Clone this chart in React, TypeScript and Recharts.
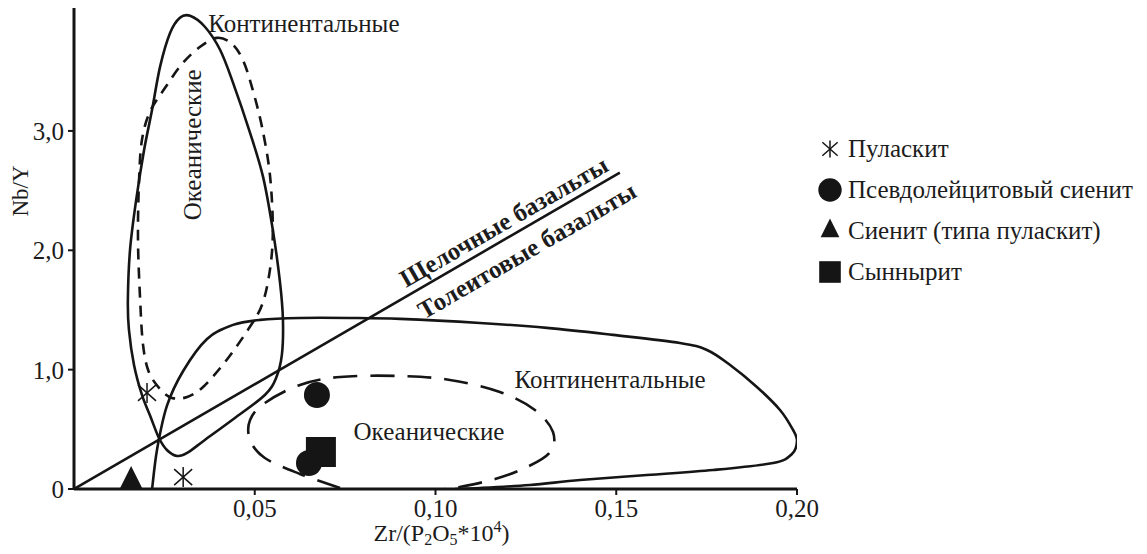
import React from 'react';
import { ScatterChart, Scatter, XAxis, YAxis, Legend } from 'recharts';

const FONT = '"Liberation Serif", "Times New Roman", serif';
const INK = '#151515';

// outlines (x = Zr/(P2O5*10^4), y = Nb/Y)
const continentalNarrow = [
  { x: 0.0321, y: 3.965 }, { x: 0.0362, y: 3.873 }, { x: 0.0404, y: 3.68 }, { x: 0.044, y: 3.403 },
  { x: 0.0487, y: 2.984 }, { x: 0.0523, y: 2.615 }, { x: 0.055, y: 2.171 }, { x: 0.057, y: 1.727 },
  { x: 0.0578, y: 1.417 }, { x: 0.0575, y: 1.123 }, { x: 0.0559, y: 0.93 }, { x: 0.0528, y: 0.788 },
  { x: 0.0445, y: 0.595 }, { x: 0.0362, y: 0.411 }, { x: 0.0313, y: 0.302 }, { x: 0.0285, y: 0.277 },
  { x: 0.0257, y: 0.327 }, { x: 0.0235, y: 0.427 }, { x: 0.0213, y: 0.595 }, { x: 0.0188, y: 0.788 },
  { x: 0.0166, y: 1.039 }, { x: 0.0152, y: 1.333 }, { x: 0.0149, y: 1.584 }, { x: 0.0155, y: 2.003 },
  { x: 0.0172, y: 2.422 }, { x: 0.0194, y: 2.842 }, { x: 0.0216, y: 3.177 }, { x: 0.0238, y: 3.537 },
  { x: 0.0266, y: 3.822 }, { x: 0.0293, y: 3.948 },
];

const oceanicNarrow = [
  { x: 0.0396, y: 3.78 }, { x: 0.0437, y: 3.73 }, { x: 0.0467, y: 3.596 }, { x: 0.0492, y: 3.37 },
  { x: 0.052, y: 3.034 }, { x: 0.0542, y: 2.632 }, { x: 0.055, y: 2.171 }, { x: 0.0542, y: 1.836 },
  { x: 0.052, y: 1.542 }, { x: 0.0481, y: 1.333 }, { x: 0.0418, y: 1.065 }, { x: 0.0357, y: 0.855 },
  { x: 0.0313, y: 0.771 }, { x: 0.0271, y: 0.763 }, { x: 0.0238, y: 0.838 }, { x: 0.0207, y: 0.981 },
  { x: 0.0191, y: 1.207 }, { x: 0.0183, y: 1.584 }, { x: 0.0177, y: 2.087 }, { x: 0.018, y: 2.59 },
  { x: 0.0188, y: 2.925 }, { x: 0.021, y: 3.16 }, { x: 0.0252, y: 3.361 }, { x: 0.0299, y: 3.562 },
  { x: 0.0349, y: 3.705 },
];

const continentalWide = [
  { x: 0.0216, y: 0 }, { x: 0.023, y: 0.335 }, { x: 0.0257, y: 0.696 }, { x: 0.0302, y: 0.989 },
  { x: 0.0368, y: 1.257 }, { x: 0.044, y: 1.375 }, { x: 0.0515, y: 1.417 }, { x: 0.0625, y: 1.433 },
  { x: 0.0763, y: 1.433 }, { x: 0.0902, y: 1.425 }, { x: 0.1123, y: 1.391 }, { x: 0.1308, y: 1.35 },
  { x: 0.1491, y: 1.291 }, { x: 0.1676, y: 1.224 }, { x: 0.1751, y: 1.165 }, { x: 0.1815, y: 1.039 },
  { x: 0.1889, y: 0.855 }, { x: 0.1953, y: 0.662 }, { x: 0.1989, y: 0.495 }, { x: 0.2, y: 0.402 },
  { x: 0.1986, y: 0.293 }, { x: 0.1934, y: 0.218 }, { x: 0.1768, y: 0.159 }, { x: 0.1585, y: 0.117 },
  { x: 0.14, y: 0.075 }, { x: 0.1261, y: 0.034 }, { x: 0.1123, y: 0.008 }, { x: 0.1054, y: 0 },
];

const oceanicWide = [
  { x: 0.0736, y: 0.008 }, { x: 0.0625, y: 0.126 }, { x: 0.0528, y: 0.26 }, { x: 0.0487, y: 0.411 },
  { x: 0.0487, y: 0.578 }, { x: 0.0528, y: 0.721 }, { x: 0.0625, y: 0.872 }, { x: 0.0736, y: 0.939 },
  { x: 0.0902, y: 0.947 }, { x: 0.104, y: 0.914 }, { x: 0.1178, y: 0.813 }, { x: 0.1275, y: 0.662 },
  { x: 0.1325, y: 0.478 }, { x: 0.1317, y: 0.31 }, { x: 0.1253, y: 0.184 }, { x: 0.1165, y: 0.084 },
  { x: 0.1068, y: 0.017 }, { x: 0.1026, y: 0 },
];

const basaltDivide = [{ x: 0, y: 0 }, { x: 0.151, y: 2.65 }];

// samples
const pulaskite = [{ x: 0.0202, y: 0.805 }, { x: 0.0302, y: 0.1 }];
const pseudoleuciteSyenite = [{ x: 0.0672, y: 0.788 }, { x: 0.065, y: 0.218 }];
const syenite = [{ x: 0.0158, y: 0.07 }];
const synnyrite = [{ x: 0.0683, y: 0.31 }];

const xTicks = [0.05, 0.1, 0.15, 0.2];
const yTicks = [0, 1, 2, 3];

const fieldLabels = [
  { x: 0.0636, y: 3.9, text: 'Континентальные', kind: 'plain' },
  { x: 0.1483, y: 0.914, text: 'Континентальные', kind: 'plain' },
  { x: 0.0982, y: 0.478, text: 'Океанические', kind: 'plain' },
  { x: 0.0329, y: 2.884, text: 'Океанические', kind: 'vertical' },
  { x: 0.1189, y: 2.24, text: 'Щелочные базальты', kind: 'divide' },
  { x: 0.1253, y: 1.998, text: 'Толеитовые базальты', kind: 'divide' },
];

const legendItems = [
  { name: 'Пуласкит', marker: 'asterisk' },
  { name: 'Псевдолейцитовый сиенит', marker: 'circle' },
  { name: 'Сиенит (типа пуласкит)', marker: 'triangle' },
  { name: 'Сыннырит', marker: 'square' },
];

// closed / open Catmull-Rom through the scaled points
function smoothCurve(closed: boolean) {
  return (context: any) => {
    let pts: number[][] = [];
    return {
      areaStart() {},
      areaEnd() {},
      lineStart() { pts = []; },
      point(x: number, y: number) { pts.push([+x, +y]); },
      lineEnd() {
        const n = pts.length;
        if (n < 2) return;
        const at = (i: number) => (closed ? pts[(i + n) % n] : pts[Math.max(0, Math.min(n - 1, i))]);
        context.moveTo(pts[0][0], pts[0][1]);
        const segs = closed ? n : n - 1;
        for (let i = 0; i < segs; i++) {
          const p0 = at(i - 1), p1 = at(i), p2 = at(i + 1), p3 = at(i + 2);
          context.bezierCurveTo(
            p1[0] + (p2[0] - p0[0]) / 6, p1[1] + (p2[1] - p0[1]) / 6,
            p2[0] - (p3[0] - p1[0]) / 6, p2[1] - (p3[1] - p1[1]) / 6,
            p2[0], p2[1],
          );
        }
        if (closed) context.closePath();
      },
    };
  };
}

const closedCurve = smoothCurve(true);
const openCurve = smoothCurve(false);
const noDot = () => <g />;

function MarkerIcon({ type, cx, cy, scale = 1 }: { type: string; cx: number; cy: number; scale?: number }) {
  const s = scale;
  if (type === 'asterisk') {
    return (
      <g stroke={INK} strokeWidth={1.5}>
        <line x1={cx} y1={cy - 10 * s} x2={cx} y2={cy + 10 * s} />
        <line x1={cx - 9 * s} y1={cy - 8 * s} x2={cx + 9 * s} y2={cy + 8 * s} />
        <line x1={cx + 9 * s} y1={cy - 8 * s} x2={cx - 9 * s} y2={cy + 8 * s} />
      </g>
    );
  }
  if (type === 'circle') return <circle cx={cx} cy={cy} r={13 * s} fill={INK} />;
  if (type === 'triangle') {
    const h = 22 * s;
    const b = 11 * s;
    return <path d={`M${cx},${cy - (2 * h) / 3} L${cx + b},${cy + h / 3} L${cx - b},${cy + h / 3} Z`} fill={INK} />;
  }
  return <rect x={cx - 15 * s} y={cy - 15 * s} width={30 * s} height={30 * s} fill={INK} />;
}

function renderLegend() {
  return (
    <div style={{ fontFamily: FONT, fontSize: 25, color: '#1c1c1c' }}>
      {legendItems.map((item) => (
        <div key={item.name} style={{ display: 'flex', alignItems: 'center', height: 41, whiteSpace: 'nowrap' }}>
          <svg width={26} height={26} style={{ marginRight: 5 }}>
            <MarkerIcon type={item.marker} cx={13} cy={13} scale={item.marker === 'square' ? 0.72 : item.marker === 'circle' ? 0.9 : 0.85} />
          </svg>
          <span>{item.name}</span>
        </div>
      ))}
    </div>
  );
}

function XTitle(props: any) {
  const vb = props.viewBox || {};
  const x = (vb.x ?? 66) + (vb.width ?? 723) / 2 + 6;
  const y = (vb.y ?? 481) + 52;
  return (
    <text x={x} y={y} textAnchor="middle" fontFamily={FONT} fontSize={24} fill="#1c1c1c">
      Zr/(P<tspan dy={4} fontSize={16}>2</tspan><tspan dy={-4}>O</tspan><tspan dy={4} fontSize={16}>5</tspan>
      <tspan dy={-4}>*10</tspan><tspan dy={-9} fontSize={16}>4</tspan><tspan dy={9}>)</tspan>
    </text>
  );
}

function YTitle(props: any) {
  const vb = props.viewBox || {};
  const x = (vb.x ?? 6) + 6;
  const y = (vb.y ?? 0) + 183;
  return (
    <text x={x} y={y} transform={`rotate(-90 ${x} ${y})`} textAnchor="middle" dominantBaseline="central"
      fontFamily={FONT} fontSize={23} fill="#1c1c1c">
      Nb/Y
    </text>
  );
}

function labelShape(text: string, kind: string) {
  return (p: any) => {
    const { cx, cy } = p;
    if (kind === 'vertical') {
      return (
        <text x={cx} y={cy} transform={`rotate(-90 ${cx} ${cy})`} textAnchor="middle" dominantBaseline="central"
          fontFamily={FONT} fontSize={25} fill="#1c1c1c">{text}</text>
      );
    }
    if (kind === 'divide') {
      return (
        <text x={cx} y={cy} transform={`rotate(-30 ${cx} ${cy})`} textAnchor="middle" dominantBaseline="central"
          fontFamily={FONT} fontSize={25} fontWeight="bold" fill="#1c1c1c">{text}</text>
      );
    }
    return (
      <text x={cx} y={cy} textAnchor="middle" dominantBaseline="central" fontFamily={FONT} fontSize={25} fill="#1c1c1c">
        {text}
      </text>
    );
  };
}

const tickStyle = { fill: '#1c1c1c', fontSize: 25, fontFamily: FONT };

export default function App() {
  return (
    <div style={{ width: 1131, height: 546, background: '#fff' }}>
      <ScatterChart width={1131} height={546} margin={{ top: 0, right: 342, bottom: 25, left: 6 }}>
        <XAxis
          type="number"
          dataKey="x"
          domain={[0, 0.2]}
          ticks={xTicks}
          interval={0}
          height={40}
          allowDataOverflow
          tickFormatter={(v: number) => v.toFixed(2).replace('.', ',')}
          tick={tickStyle}
          tickSize={6}
          tickMargin={4}
          axisLine={{ stroke: INK, strokeWidth: 3 }}
          tickLine={{ stroke: INK, strokeWidth: 2 }}
          label={XTitle}
        />
        <YAxis
          type="number"
          dataKey="y"
          domain={[0, 4.03]}
          ticks={yTicks}
          interval={0}
          width={60}
          allowDataOverflow
          tickFormatter={(v: number) => (v === 0 ? '0' : v.toFixed(1).replace('.', ','))}
          tick={tickStyle}
          tickSize={6}
          tickMargin={4}
          axisLine={{ stroke: INK, strokeWidth: 3 }}
          tickLine={{ stroke: INK, strokeWidth: 2 }}
          label={YTitle}
        />

        <Scatter data={continentalNarrow} line={{ stroke: INK, strokeWidth: 2.6 }} lineJointType={closedCurve}
          shape={noDot} isAnimationActive={false} legendType="none" />
        <Scatter data={oceanicNarrow} line={{ stroke: INK, strokeWidth: 2.6, strokeDasharray: '11 8' }} lineJointType={closedCurve}
          shape={noDot} isAnimationActive={false} legendType="none" />
        <Scatter data={continentalWide} line={{ stroke: INK, strokeWidth: 2.6 }} lineJointType={openCurve}
          shape={noDot} isAnimationActive={false} legendType="none" />
        <Scatter data={oceanicWide} line={{ stroke: INK, strokeWidth: 2.6, strokeDasharray: '24 13' }} lineJointType={openCurve}
          shape={noDot} isAnimationActive={false} legendType="none" />
        <Scatter data={basaltDivide} line={{ stroke: INK, strokeWidth: 2.6 }} lineJointType="linear"
          shape={noDot} isAnimationActive={false} legendType="none" />

        {fieldLabels.map((l, i) => (
          <Scatter key={`lab-${i}`} data={[{ x: l.x, y: l.y }]} shape={labelShape(l.text, l.kind)}
            isAnimationActive={false} legendType="none" />
        ))}

        <Scatter name="Сыннырит" data={synnyrite} shape={(p: any) => <MarkerIcon type="square" cx={p.cx} cy={p.cy} />}
          isAnimationActive={false} />
        <Scatter name="Псевдолейцитовый сиенит" data={pseudoleuciteSyenite}
          shape={(p: any) => <MarkerIcon type="circle" cx={p.cx} cy={p.cy} />} isAnimationActive={false} />
        <Scatter name="Сиенит (типа пуласкит)" data={syenite}
          shape={(p: any) => <MarkerIcon type="triangle" cx={p.cx} cy={p.cy} />} isAnimationActive={false} />
        <Scatter name="Пуласкит" data={pulaskite} shape={(p: any) => <MarkerIcon type="asterisk" cx={p.cx} cy={p.cy} />}
          isAnimationActive={false} />

        <Legend
          content={renderLegend}
          layout="vertical"
          align="center"
          verticalAlign="middle"
          wrapperStyle={{ left: 809, top: 120, width: 330 }}
        />
      </ScatterChart>
    </div>
  );
}
